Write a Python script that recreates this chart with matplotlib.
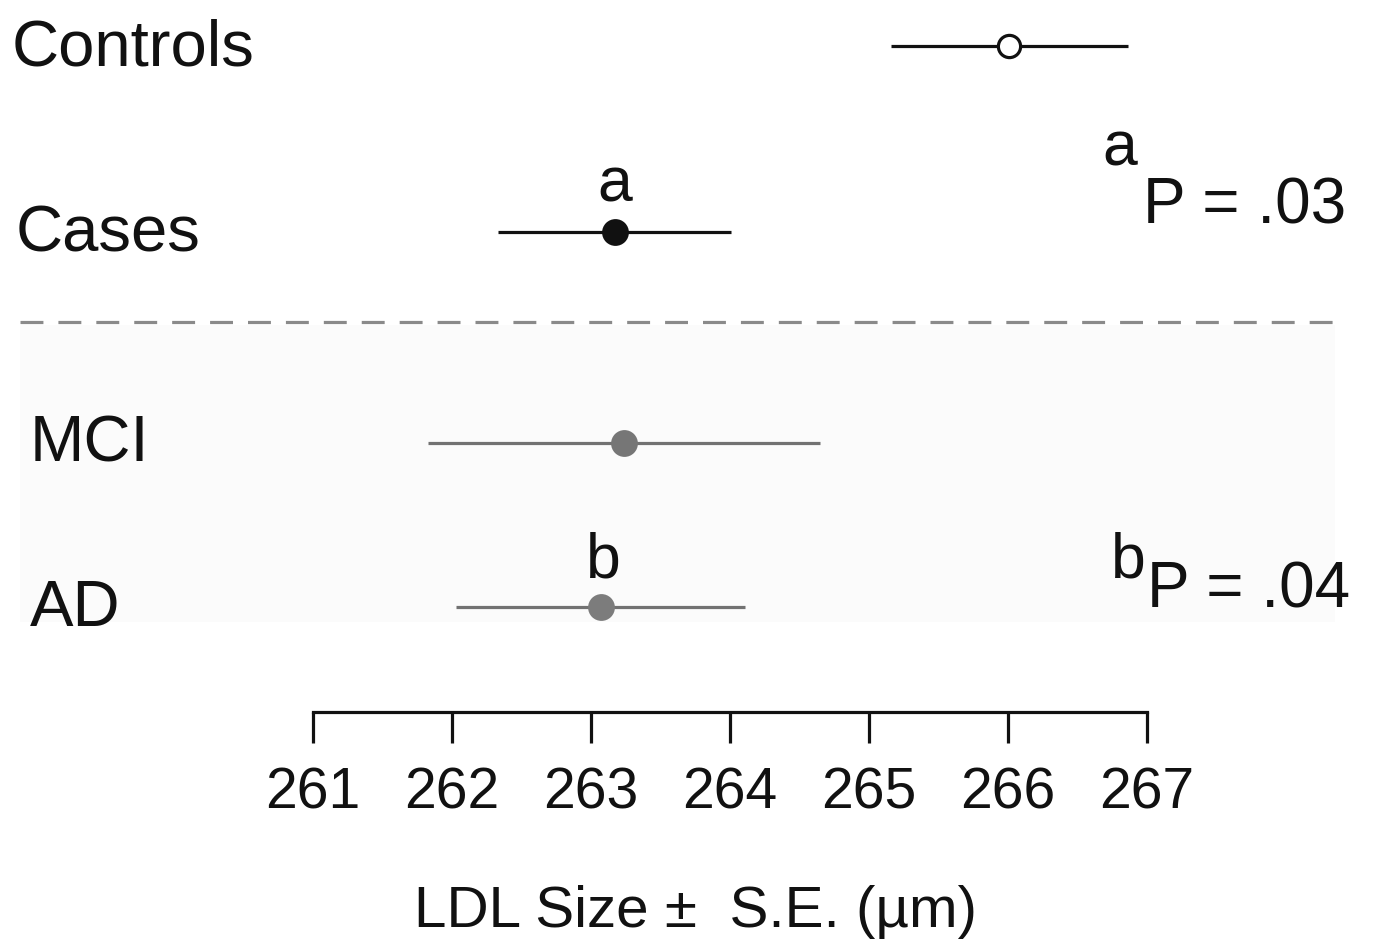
import matplotlib
matplotlib.use("Agg")
import matplotlib.pyplot as plt

# LDL size by group (mean and S.E.)
groups = ['Controls', 'Cases', 'MCI', 'AD']
means = [266.01, 263.17, 263.24, 263.07]
se = [0.85, 0.84, 1.41, 1.04]
ticks = [261, 262, 263, 264, 265, 266, 267]

plt.rcParams['font.family'] = ['Liberation Sans', 'DejaVu Sans']
plt.rcParams['lines.scale_dashes'] = False

W, H = 1374, 950
fig = plt.figure(figsize=(W / 100, H / 100), dpi=100)
ax = fig.add_axes([0, 0, 1, 1])

# x in data units (261 at px 313, 139 px per unit), y in pixel rows
ppu = 139.0
ax.set_xlim(261 - 313 / ppu, 261 + (W - 313) / ppu)
ax.set_ylim(H, 0)

rows_y = [46, 232, 443, 607]
line_col = ['#111111', '#111111', '#727272', '#727272']
face_col = ['white', '#111111', '#767676', '#7c7c7c']
edge_col = ['#111111', '#111111', '#767676', '#7c7c7c']
label_x = [258.83, 258.86, 258.96, 258.96]

# shaded box for the case subgroups and dashed separator
ax.axhspan(325, 622, xmin=20 / W, xmax=1335 / W, color='#fbfbfb', lw=0, zorder=0)
ax.axhline(322, xmin=20 / W, xmax=1335 / W, color='#8a8a8a', lw=2.3,
           dashes=(16.5, 10.8), zorder=1)

for i, g in enumerate(groups):
    ax.errorbar(means[i], rows_y[i], xerr=se[i], fmt='o', color=line_col[i],
                ecolor=line_col[i], elinewidth=2.3, capsize=0,
                markersize=17 if i > 0 else 16, mfc=face_col[i], mec=edge_col[i],
                mew=2.3, zorder=3)
    ax.text(label_x[i], rows_y[i] + 19, g, fontsize=47, ha='left', va='baseline',
            color='#111111')

# significance letters
ax.text(263.17, 202, 'a', fontsize=45, ha='center', va='baseline', color='#111111')
ax.text(263.09, 578, 'b', fontsize=45, ha='center', va='baseline', color='#111111')
ax.text(266.68, 165, 'a', fontsize=45, ha='left', va='baseline', color='#111111')
ax.text(266.97, 223, 'P = .03', fontsize=46, ha='left', va='baseline', color='#111111')
ax.text(266.74, 577, 'b', fontsize=45, ha='left', va='baseline', color='#111111')
ax.text(267.0, 607, 'P = .04', fontsize=46, ha='left', va='baseline', color='#111111')

# x axis
for s in ['left', 'right', 'top']:
    ax.spines[s].set_visible(False)
ax.spines['bottom'].set_position(('data', 712))
ax.spines['bottom'].set_bounds(261, 267)
ax.spines['bottom'].set_linewidth(2.3)
ax.spines['bottom'].set_color('#111111')
ax.set_yticks([])
ax.set_xticks(ticks)
ax.set_xticklabels([str(t) for t in ticks])
ax.tick_params(axis='x', direction='out', length=22, width=2.3, pad=17,
               labelsize=41, color='#111111', labelcolor='#111111')
ax.set_xlabel('LDL Size ±  S.E. (µm)', fontsize=42, color='#111111')
ax.xaxis.set_label_coords(695 / W, 1 - 912 / H)
ax.xaxis.label.set_va('center')
ax.patch.set_visible(False)

fig.savefig('out.png', dpi=100, facecolor='white')
